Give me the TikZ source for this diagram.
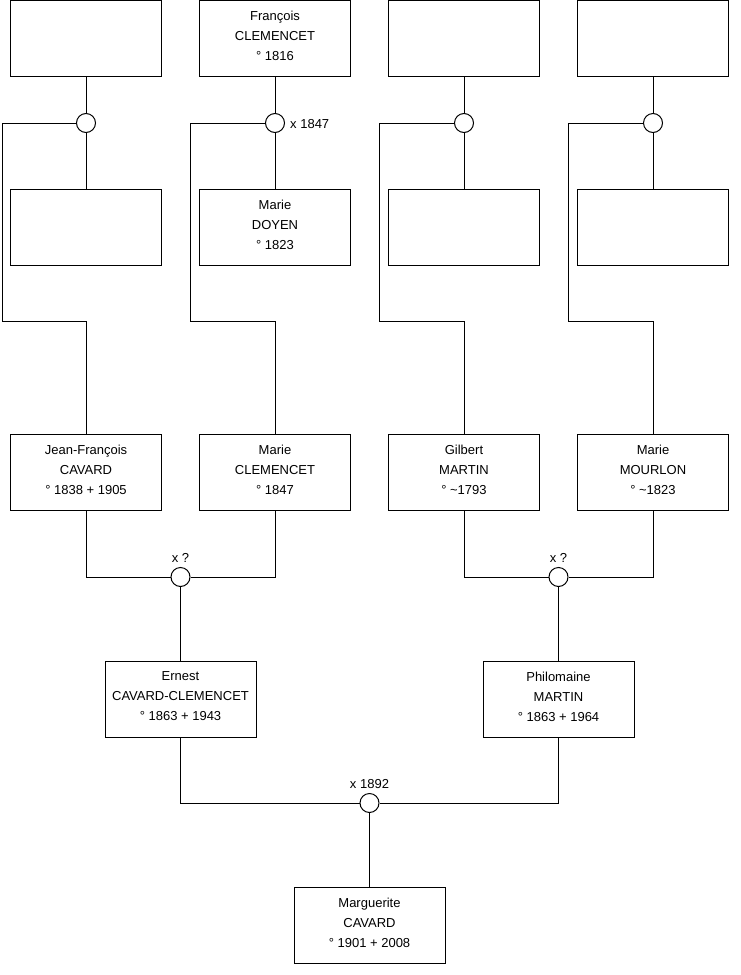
\documentclass[tikz,border=0pt]{standalone}
\usepackage{fontspec}
\setmainfont{Liberation Sans}
\begin{document}
\begin{tikzpicture}[x=1pt,y=-1pt,
  every node/.style={font=\fontsize{13}{20}\selectfont},
  person/.style={draw, line width=1pt, fill=white, minimum width=151pt, minimum height=76pt,
    inner sep=0pt, align=center, text depth=5pt},
  union/.style={draw, line width=1pt, fill=white, circle, minimum size=19pt, inner sep=0pt},
  link/.style={line width=1pt},
  lab/.style={inner sep=0pt}]
\useasboundingbox (0,0) rectangle (740,975);
% top row
\node[person] (t1) at (86,38) {};
\node[person] (t2) at (275,38) {François\\CLEMENCET\\° 1816};
\node[person] (t3) at (464,38) {};
\node[person] (t4) at (653,38) {};
% unions
\node[union] (c1) at (86,123) {};
\node[union] (c2) at (275,123) {};
\node[union] (c3) at (464,123) {};
\node[union] (c4) at (653,123) {};
% second row
\node[person] (m1) at (86,227.5) {};
\node[person] (m2) at (275,227.5) {Marie\\DOYEN\\° 1823};
\node[person] (m3) at (464,227.5) {};
\node[person] (m4) at (653,227.5) {};
% third row
\node[person] (j1) at (86,472.5) {Jean-François\\CAVARD\\° 1838 + 1905};
\node[person] (j2) at (275,472.5) {Marie\\CLEMENCET\\° 1847};
\node[person] (j3) at (464,472.5) {Gilbert\\MARTIN\\° \textasciitilde1793};
\node[person] (j4) at (653,472.5) {Marie\\MOURLON\\° \textasciitilde1823};
\node[union] (c5) at (180.5,577) {};
\node[union] (c6) at (558.5,577) {};
% fourth row
\node[person] (e1) at (180.5,699) {Ernest\\CAVARD-CLEMENCET\\° 1863 + 1943};
\node[person] (e2) at (558.5,699) {Philomaine\\MARTIN\\° 1863 + 1964};
\node[union] (c7) at (369.5,803) {};
\node[person] (mg) at (369.5,925.5) {Marguerite\\CAVARD\\° 1901 + 2008};
% labels
\node[lab, anchor=west] (l2) at ([xshift=5pt,yshift=-1pt]c2.east) {x 1847};
\node[lab, anchor=south] (l5) at ([yshift=4pt]c5.north) {x ?};
\node[lab, anchor=south] (l6) at ([yshift=4pt]c6.north) {x ?};
\node[lab, anchor=south] (l7) at ([yshift=4pt]c7.north) {x 1892};
% turn points
\coordinate (L1) at (2,321);
\coordinate (L2) at (190.5,321);
\coordinate (L3) at (379.5,321);
\coordinate (L4) at (568.5,321);
% connectors
\foreach \i in {1,2,3,4}{
  \draw[link] (t\i) -- (c\i);
  \draw[link] (c\i) -- (m\i);
  \draw[link] (c\i.west) -| (L\i) -| (j\i.north);
}
\draw[link] (j1.south) |- (c5.west);
\draw[link] (j2.south) |- (c5.east);
\draw[link] (c5) -- (e1);
\draw[link] (j3.south) |- (c6.west);
\draw[link] (j4.south) |- (c6.east);
\draw[link] (c6) -- (e2);
\draw[link] (e1.south) |- (c7.west);
\draw[link] (e2.south) |- (c7.east);
\draw[link] (c7) -- (mg);
\end{tikzpicture}
\end{document}
